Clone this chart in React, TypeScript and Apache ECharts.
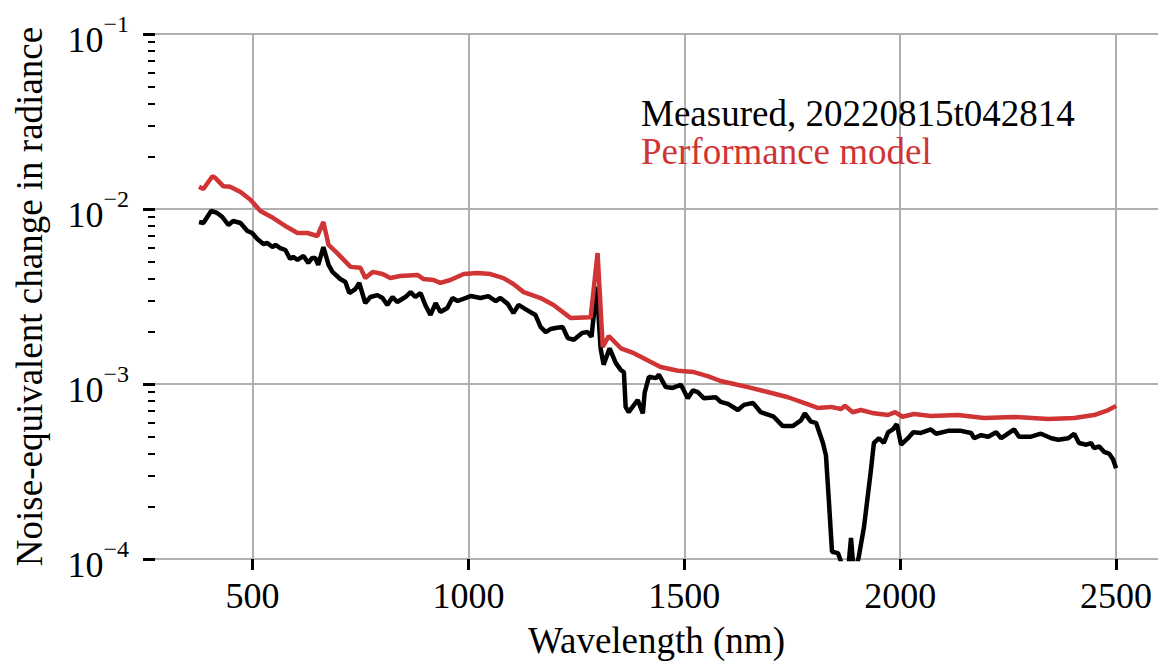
import React, { useEffect, useRef } from "react";
import * as echarts from "echarts";

// Noise-equivalent change in radiance, measured scene vs. performance model
const measuredWavelength = [
  376, 386, 404, 418, 430, 444, 455, 472, 488, 499, 511, 525, 534, 546, 553, 564, 576, 587, 594, 604,
  618, 629, 638, 645, 652, 664, 676, 685, 703, 715, 724, 738, 747, 761, 773, 789, 801, 812, 824, 835,
  854, 866, 877, 889, 900, 912, 924, 935, 951, 963, 975, 1005, 1028, 1046, 1063, 1074, 1091, 1104, 1116, 1132,
  1155, 1167, 1179, 1190, 1202, 1218, 1230, 1244, 1264, 1276, 1285, 1297, 1306, 1313, 1327, 1341, 1353, 1360, 1364, 1371,
  1392, 1404, 1408, 1418, 1434, 1441, 1457, 1473, 1492, 1508, 1520, 1531, 1545, 1573, 1584, 1601, 1624, 1638, 1659, 1677,
  1707, 1728, 1751, 1770, 1779, 1793, 1805, 1821, 1828, 1835, 1842, 1856, 1867, 1879, 1886, 1893, 1904, 1916, 1932, 1939,
  1951, 1962, 1972, 1983, 1992, 2002, 2018, 2030, 2048, 2071, 2083, 2111, 2141, 2164, 2171, 2187, 2204, 2222, 2234, 2264,
  2275, 2303, 2326, 2350, 2366, 2389, 2403, 2414, 2431, 2442, 2449, 2461, 2472, 2484, 2493, 2500,
];
const measuredNedl = [
  0.00843, 0.00832, 0.00974, 0.00949, 0.009, 0.0081, 0.00854, 0.00832, 0.00749, 0.00729, 0.00674, 0.00631, 0.00639, 0.00606, 0.00623, 0.00598, 0.00583, 0.00518, 0.00532, 0.00512,
  0.00539, 0.00492, 0.00525, 0.00525, 0.00479, 0.00606, 0.00479, 0.00437, 0.00398, 0.00383, 0.00331, 0.00349, 0.00378, 0.0029, 0.00314, 0.00322, 0.0031, 0.00283, 0.00314, 0.00294,
  0.00314, 0.00335, 0.00314, 0.00331, 0.00283, 0.00248, 0.0029, 0.00258, 0.00272, 0.0031, 0.00298, 0.00318, 0.0031, 0.00318, 0.00298, 0.0031, 0.00287, 0.00254, 0.00283, 0.00268,
  0.00248, 0.00212, 0.00198, 0.00206, 0.00209, 0.00212, 0.00183, 0.00179, 0.00196, 0.00198, 0.00186, 0.0036, 0.0016, 0.00129, 0.0016, 0.00132, 0.0012, 0.00117, 0.00074, 0.00069,
  0.00081, 0.00068, 0.00089, 0.0011, 0.00108, 0.00113, 0.00096, 0.00095, 0.00099, 0.00083, 0.00092, 0.0009, 0.00083, 0.00084, 0.00079, 0.00077, 0.00071, 0.00076, 0.00078, 0.00069,
  0.00065, 0.000575, 0.000575, 0.00062, 0.00068, 0.00061, 0.0006, 0.00046, 0.00039, 0.00021, 0.00011, 0.000108, 0.00009, 0.000085, 0.000132, 0.00008, 0.000103, 0.000152, 0.00032, 0.00046,
  0.00049, 0.00046, 0.00053, 0.00055, 0.00059, 0.00045, 0.00049, 0.00053, 0.000525, 0.00055, 0.00052, 0.00054, 0.00054, 0.000525, 0.00049, 0.00051, 0.0005, 0.00053, 0.00049, 0.00055,
  0.0005, 0.0005, 0.00052, 0.00049, 0.00048, 0.00049, 0.00052, 0.00046, 0.00045, 0.00046, 0.00043, 0.00044, 0.00041, 0.0004, 0.00037, 0.00033,
];

const modelWavelength = [
  376, 386, 407, 414, 432, 448, 472, 495, 518, 548, 580, 604, 627, 650, 664, 676, 696, 727, 750, 761,
  778, 801, 819, 842, 882, 896, 919, 935, 958, 989, 1021, 1051, 1081, 1104, 1128, 1167, 1197, 1237, 1283, 1299,
  1311, 1325, 1353, 1383, 1445, 1485, 1522, 1554, 1584, 1615, 1647, 1693, 1740, 1777, 1809, 1839, 1863, 1872, 1890, 1909,
  1939, 1972, 1988, 2005, 2032, 2071, 2134, 2194, 2264, 2343, 2403, 2449, 2482, 2500,
];
const modelNedl = [
  0.0134, 0.013, 0.0154, 0.015, 0.0135, 0.0134, 0.0125, 0.0113, 0.00974, 0.00888, 0.00789, 0.00729, 0.00729, 0.00701, 0.00843, 0.00623, 0.0056, 0.00467, 0.00461, 0.00403,
  0.00437, 0.00425, 0.00403, 0.00414, 0.0042, 0.00398, 0.00393, 0.00378, 0.00393, 0.00425, 0.00431, 0.00425, 0.00403, 0.00373, 0.00335, 0.0031, 0.00283, 0.00238, 0.00241, 0.0056,
  0.00163, 0.00188, 0.0016, 0.0015, 0.00125, 0.00119, 0.00117, 0.00111, 0.00104, 0.001, 0.00096, 0.0009, 0.00084, 0.00078, 0.00073, 0.00074, 0.00072, 0.00075, 0.00069, 0.00071,
  0.00068, 0.000665, 0.00069, 0.00065, 0.000674, 0.000656, 0.000665, 0.000639, 0.000648, 0.000631, 0.000639, 0.000665, 0.00071, 0.00075,
];

const seriesNames = ["Measured, 20220815t042814", "Performance model"];
const xTicks = [500, 1000, 1500, 2000, 2500];
const yMinorTicks = [
  2e-4, 3e-4, 4e-4, 5e-4, 6e-4, 7e-4, 8e-4, 9e-4,
  2e-3, 3e-3, 4e-3, 5e-3, 6e-3, 7e-3, 8e-3, 9e-3,
  2e-2, 3e-2, 4e-2, 5e-2, 6e-2, 7e-2, 8e-2, 9e-2,
];

const FONT = "'Liberation Serif', 'Times New Roman', serif";
const RED = "#d03434";
const GRID_GRAY = "#b0b0b0";

const pairs = (xs: number[], ys: number[]) => xs.map((x, i) => [x, ys[i]]);

export default function App() {
  const ref = useRef<HTMLDivElement>(null);

  useEffect(() => {
    if (!ref.current) return;
    const chart = echarts.init(ref.current, undefined, { renderer: "svg" });
    chart.setOption({
      animation: false,
      backgroundColor: "#ffffff",
      grid: {
        left: 155,
        right: 0,
        top: 34,
        bottom: 105,
        containLabel: false,
        outerBoundsMode: "none",
      },
      legend: {
        data: [
          { name: seriesNames[0], textStyle: { color: "#000000" } },
          { name: seriesNames[1], textStyle: { color: RED } },
        ],
        orient: "vertical",
        left: 635,
        top: 94,
        padding: 0,
        itemGap: 0,
        itemWidth: 0,
        itemHeight: 0,
        selectedMode: false,
        itemStyle: { opacity: 0 },
        lineStyle: { opacity: 0 },
        textStyle: { fontSize: 37, fontFamily: FONT, lineHeight: 38 },
      },
      xAxis: {
        type: "value",
        min: 274,
        max: 2597,
        axisLine: { show: false },
        axisTick: {
          show: true,
          customValues: xTicks,
          length: 11,
          lineStyle: { color: "#000000", width: 3 },
        },
        axisLabel: {
          customValues: xTicks,
          margin: 19,
          fontSize: 36,
          fontFamily: FONT,
          color: "#000000",
          formatter: (v: number) => String(v),
        },
        splitLine: { show: true, lineStyle: { color: GRID_GRAY, width: 2 } },
        name: "Wavelength (nm)",
        nameLocation: "middle",
        nameGap: 63,
        nameTextStyle: { fontSize: 37, fontFamily: FONT, color: "#000000" },
      },
      yAxis: [
        {
          type: "log",
          logBase: 10,
          min: 1e-4,
          max: 1e-1,
          position: "left",
          axisLine: { show: false },
          axisTick: { show: true, length: 12, lineStyle: { color: "#000000", width: 3 } },
          axisLabel: {
            margin: 26,
            padding: [12, 0, 0, 0],
            formatter: (v: number) => `{b|10}{s|\u2212${-Math.round(Math.log10(v))}}`,
            rich: {
              b: { fontSize: 36, fontFamily: FONT, color: "#000000", lineHeight: 56, verticalAlign: "middle" },
              s: { fontSize: 24, fontFamily: FONT, color: "#000000", lineHeight: 24, verticalAlign: "top" },
            },
          },
          splitLine: { show: true, lineStyle: { color: GRID_GRAY, width: 2 } },
          name: "Noise-equivalent change in radiance",
          nameLocation: "middle",
          nameGap: 107,
          nameTextStyle: { fontSize: 37, fontFamily: FONT, color: "#000000" },
        },
        {
          // minor ticks of the log axis, placed in decade units
          type: "value",
          min: -4,
          max: -1,
          position: "left",
          axisLine: { show: false },
          axisTick: {
            show: true,
            customValues: yMinorTicks.map((v) => Math.log10(v)),
            length: 7,
            lineStyle: { color: "#000000", width: 2 },
          },
          axisLabel: { show: false },
          splitLine: { show: false },
        },
      ],
      series: [
        {
          name: seriesNames[0],
          type: "line",
          data: pairs(measuredWavelength, measuredNedl),
          showSymbol: false,
          symbol: "none",
          lineStyle: { color: "#000000", width: 4.5 },
          itemStyle: { color: "#000000" },
          clip: true,
        },
        {
          name: seriesNames[1],
          type: "line",
          data: pairs(modelWavelength, modelNedl),
          showSymbol: false,
          symbol: "none",
          lineStyle: { color: RED, width: 4.5 },
          itemStyle: { color: RED },
          clip: true,
        },
      ],
    });
    return () => chart.dispose();
  }, []);

  return (
    <div
      ref={ref}
      style={{ position: "fixed", left: 0, top: 0, width: 1158, height: 664, background: "#ffffff" }}
    />
  );
}
